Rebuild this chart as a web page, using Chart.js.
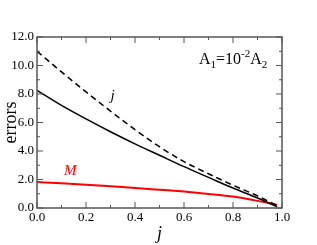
<!DOCTYPE html>
<html>
<head>
<meta charset="utf-8">
<script src="https://cdn.jsdelivr.net/npm/chart.js@4/dist/chart.umd.min.js"></script>
<style>
  html, body { margin: 0; padding: 0; background: #fff; }
  #wrap { width: 317px; height: 245px; }
</style>
</head>
<body>
<div id="wrap"><canvas id="chart" width="317" height="245"></canvas></div>
<script>
// values
const jValues = [0.0, 0.1, 0.2, 0.3, 0.4, 0.5, 0.6, 0.7, 0.8, 0.9, 0.98];
const dashedErr = [11.0, 9.55, 8.15, 6.8, 5.5, 4.3, 3.25, 2.4, 1.6, 0.85, 0.16];
const solidErr = [8.26, 7.2, 6.25, 5.35, 4.5, 3.7, 2.9, 2.15, 1.4, 0.7, 0.1];
const mErr = [1.82, 1.73, 1.63, 1.52, 1.41, 1.28, 1.15, 0.99, 0.8, 0.5, 0.22];
const xTicks = [0.0, 0.2, 0.4, 0.6, 0.8, 1.0];
const yTicks = [0, 2, 4, 6, 8, 10, 12];

const serif = '"Liberation Serif", "DejaVu Serif", serif';
const axisColor = '#555';

function pts(ys) {
    return jValues.map((x, i) => ({ x: x, y: ys[i] }));
}

// inward ticks on all four sides, frame and text labels
const frameTicks = {
    id: 'frameTicks',
    afterDraw(chart) {
        const ctx = chart.ctx;
        const a = chart.chartArea;
        const xs = chart.scales.x, ys = chart.scales.y;
        ctx.save();
        ctx.strokeStyle = axisColor;
        ctx.lineWidth = 1.5;
        ctx.strokeRect(a.left, a.top, a.right - a.left, a.bottom - a.top);
        ctx.lineWidth = 1;
        ctx.beginPath();
        for (let i = 0; i <= 10; i++) {
            const px = xs.getPixelForValue(i / 10);
            const len = i % 2 === 0 ? 6 : 3;
            ctx.moveTo(px, a.bottom); ctx.lineTo(px, a.bottom - len);
            ctx.moveTo(px, a.top); ctx.lineTo(px, a.top + len);
        }
        for (let i = 0; i <= 12; i++) {
            const py = ys.getPixelForValue(i);
            const len = i % 2 === 0 ? 6 : 3;
            ctx.moveTo(a.left, py); ctx.lineTo(a.left + len, py);
            ctx.moveTo(a.right, py); ctx.lineTo(a.right - len, py);
        }
        ctx.stroke();

        // curve labels
        ctx.textBaseline = 'alphabetic';
        ctx.fillStyle = '#000';
        ctx.font = 'italic 15px ' + serif;
        ctx.fillText('j', xs.getPixelForValue(0.3), ys.getPixelForValue(7.6));
        ctx.fillStyle = '#f00';
        ctx.fillText('M', xs.getPixelForValue(0.11), ys.getPixelForValue(2.3));

        // A1=10^-2 A2
        ctx.fillStyle = '#000';
        const base = 64;
        const parts = [
            ['A', 16, 0], ['1', 11, 4], ['=10', 16, 0], ['-2', 11, -7], ['A', 16, 0], ['2', 11, 4]
        ];
        let cx = 199;
        parts.forEach(p => {
            ctx.font = p[1] + 'px ' + serif;
            ctx.fillText(p[0], cx, base + p[2]);
            cx += ctx.measureText(p[0]).width;
        });
        ctx.restore();
    }
};

const chart = new Chart(document.getElementById('chart').getContext('2d'), {
    type: 'line',
    data: {
        datasets: [
            { data: pts(dashedErr), borderColor: '#000', borderWidth: 1.5, borderDash: [6, 4], pointRadius: 0, cubicInterpolationMode: 'monotone', fill: false },
            { data: pts(solidErr), borderColor: '#000', borderWidth: 1.5, pointRadius: 0, cubicInterpolationMode: 'monotone', fill: false },
            { data: pts(mErr), borderColor: '#f00', borderWidth: 2, pointRadius: 0, cubicInterpolationMode: 'monotone', fill: false }
        ]
    },
    options: {
        responsive: false,
        animation: false,
        layout: { padding: { left: 0, right: 35, top: 37, bottom: 0 } },
        plugins: { legend: { display: false }, tooltip: { enabled: false } },
        scales: {
            x: {
                type: 'linear', min: 0, max: 1,
                grid: { display: false, drawTicks: false },
                border: { display: false },
                afterBuildTicks: s => { s.ticks = xTicks.map(v => ({ value: v })); },
                afterFit: s => { s.height = 37; },
                ticks: { padding: 2, color: '#000', font: { family: serif, size: 13 }, maxRotation: 0, callback: v => v.toFixed(1) },
                title: { display: true, text: 'j', color: '#000', padding: { top: 0, bottom: 0 }, font: { family: serif, size: 18, style: 'italic' } }
            },
            y: {
                min: 0, max: 12,
                grid: { display: false, drawTicks: false },
                border: { display: false },
                afterBuildTicks: s => { s.ticks = yTicks.map(v => ({ value: v })); },
                afterFit: s => { s.width = 37; },
                ticks: { padding: 3, color: '#000', font: { family: serif, size: 13 }, callback: v => v.toFixed(1) },
                title: { display: true, text: 'errors', color: '#000', padding: { top: 0, bottom: 0 }, font: { family: serif, size: 18 } }
            }
        }
    },
    plugins: [frameTicks]
});
</script>
</body>
</html>
